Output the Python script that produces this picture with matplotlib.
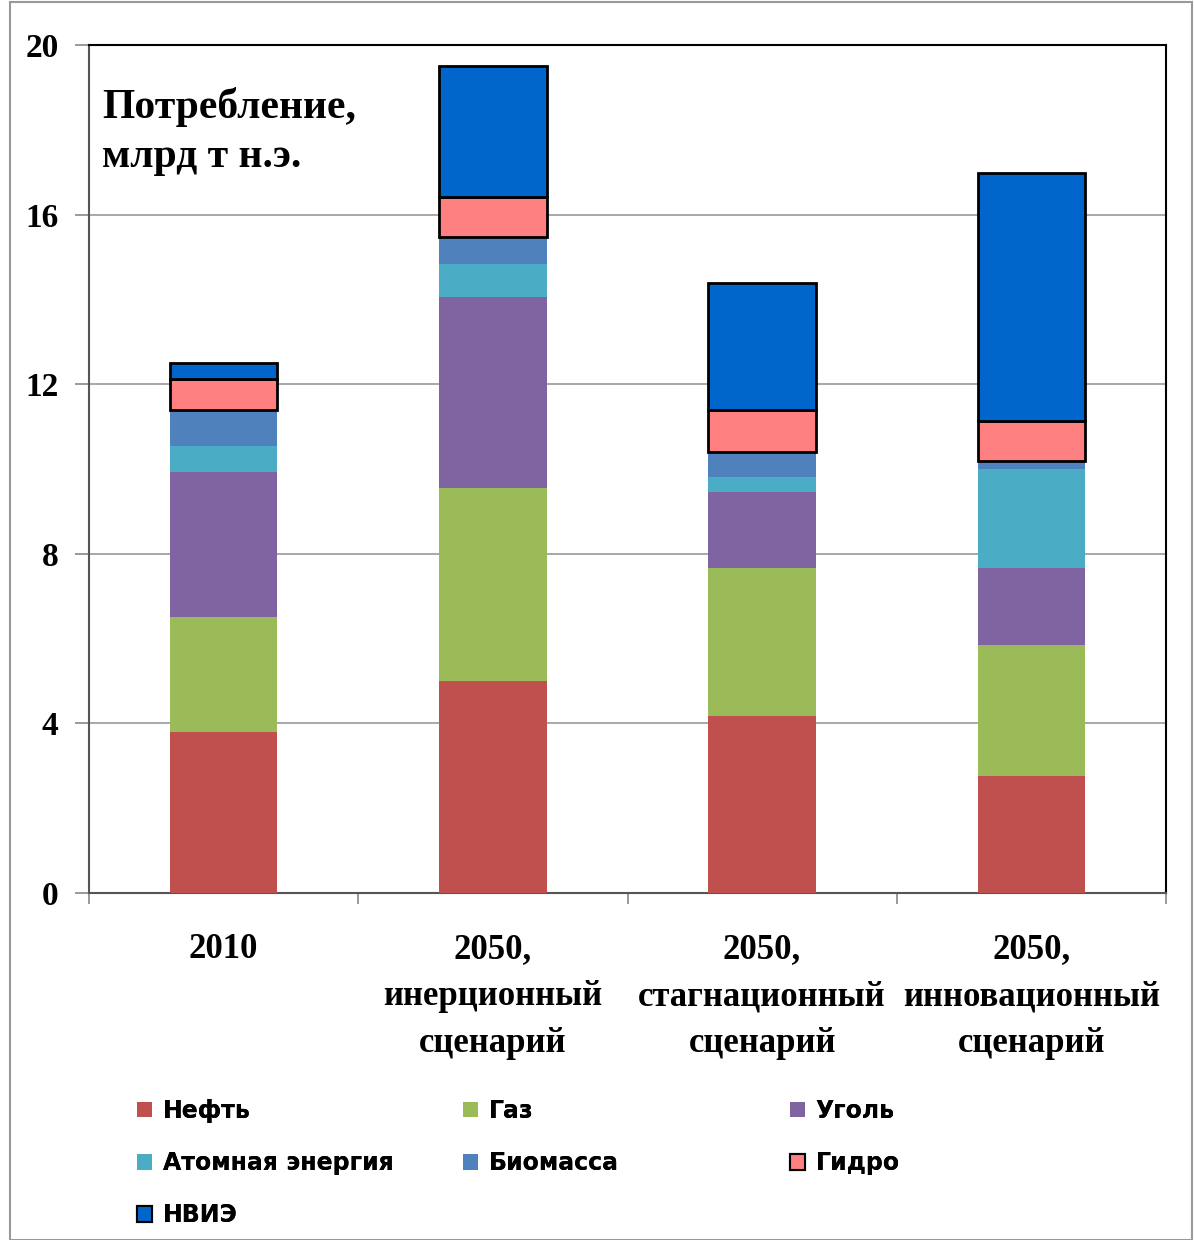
import numpy as np
import matplotlib.pyplot as plt
from matplotlib.patches import Patch, Rectangle

categories = ['2010', '2050,\nинерционный\nсценарий', '2050,\nстагнационный\nсценарий',
              '2050,\nинновационный\nсценарий']
sources = ['Нефть', 'Газ', 'Уголь', 'Атомная энергия', 'Биомасса', 'Гидро', 'НВИЭ']
oil = [3.80, 5.00, 4.17, 2.76]
gas = [2.71, 4.55, 3.49, 3.09]
coal = [3.42, 4.50, 1.79, 1.82]
nuclear = [0.61, 0.78, 0.35, 2.33]
biomass = [0.85, 0.64, 0.59, 0.19]
hydro = [0.73, 0.94, 0.99, 0.94]
renew = [0.38, 3.09, 3.00, 5.85]
colors = ['#C0504D', '#9BBB59', '#8064A2', '#4BACC6', '#4F81BD', '#FF8080', '#0066CC']
outlined = [False, False, False, False, False, True, True]

series = [oil, gas, coal, nuclear, biomass, hydro, renew]

fig = plt.figure(figsize=(11.94, 12.40), dpi=100)
ax = fig.add_axes([89/1194, 1 - 893/1240, (1166 - 89)/1194, (893 - 45)/1240])

x = np.arange(len(categories))
bottom = np.zeros(len(categories))
for vals, c, edge in zip(series, colors, outlined):
    ax.bar(x, vals, 0.4, bottom=bottom, color=c,
           edgecolor='black' if edge else 'none', linewidth=2 if edge else 0, zorder=3)
    bottom += np.array(vals)

ax.set_xlim(-0.5, 3.5)
ax.set_ylim(0, 20)
ax.set_yticks([0, 4, 8, 12, 16, 20])
ax.yaxis.grid(True, color='#999999', linewidth=1.2, zorder=0)
ax.set_xticks(x)
ax.set_xticklabels(categories, family='Liberation Serif', fontweight='bold', fontsize=25,
                   linespacing=1.55)
ax.set_xticks(np.arange(-0.5, 4.0, 1.0), minor=True)
ax.tick_params(axis='x', which='major', length=0, pad=29)
ax.tick_params(axis='x', which='minor', length=8, color='#888888', width=1.2)
ax.tick_params(axis='y', length=10, color='#888888', width=1.2, pad=12)
for lab in ax.get_yticklabels():
    lab.set_family('Liberation Serif')
    lab.set_fontweight('bold')
    lab.set_fontsize(24)
for s in ['top', 'right']:
    ax.spines[s].set_color('black')
    ax.spines[s].set_linewidth(1.5)
for s in ['left', 'bottom']:
    ax.spines[s].set_color('#555555')
    ax.spines[s].set_linewidth(1.5)

ax.text(0.012, 0.95, 'Потребление,\nмлрд т н.э.', transform=ax.transAxes, va='top', ha='left',
        family='Liberation Serif', fontweight='bold', fontsize=30, linespacing=1.35)

# legend in three fixed columns
cols = [[0, 3, 6], [1, 4], [2, 5]]
col_x = [125, 451, 778]
for xi, idx in zip(col_x, cols):
    handles = [Patch(facecolor=colors[i], edgecolor='black' if outlined[i] else 'none',
                     linewidth=1.5) for i in idx]
    leg = fig.legend(handles, [sources[i] for i in idx], loc='upper left',
                     bbox_to_anchor=(xi/1194, 1 - 1087/1240), frameon=False,
                     prop={'family': 'DejaVu Sans', 'weight': 'bold', 'size': 17},
                     handlelength=0.65, handleheight=0.65, handletextpad=0.45, labelspacing=1.2,
                     borderpad=0)
    fig.add_artist(leg)

fig.add_artist(Rectangle((10/1194, 0), 1 - 12/1194, 1 - 2/1240, transform=fig.transFigure,
                         fill=False, edgecolor='#999999', linewidth=1.5))

fig.savefig('out.png')
